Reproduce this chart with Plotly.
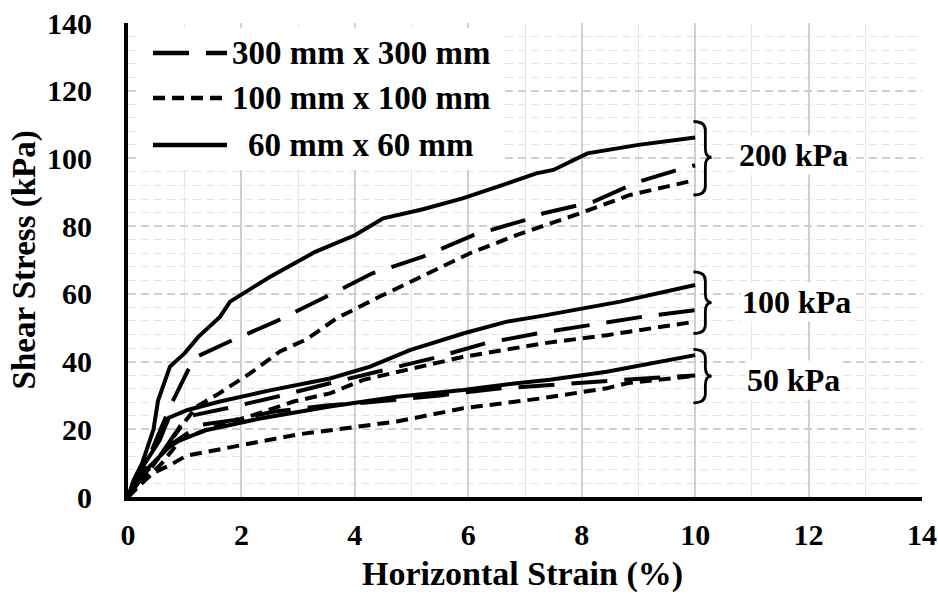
import plotly.graph_objects as go

# ---- shear stress vs horizontal strain, three box sizes x three normal stresses ----
s60_200_x = [0, 0.1, 0.25, 0.45, 0.53, 0.74, 1.0, 1.24, 1.62, 1.8, 2.5, 3.3, 4.0, 4.5, 5.2, 5.9, 6.6, 7.2, 7.5, 8.1, 9.0, 10.0]
s60_200_y = [0, 5, 10, 20, 28.5, 38.5, 42.5, 47.3, 53.2, 57.7, 65, 72.4, 77.3, 82.3, 85, 88.2, 92.1, 95.6, 96.6, 101.5, 104, 106.2]

s300_200_x = [0, 0.2, 0.4, 0.62, 0.77, 1.06, 1.21, 1.8, 2.6, 3.5, 4.3, 5.2, 6.1, 7.0, 7.33, 8.2, 9.0, 9.65, 10.0]
s300_200_y = [0, 6, 13, 21.5, 27.7, 37.5, 41.4, 46, 51.8, 59.2, 66, 71, 77.4, 81.8, 83.8, 87.2, 93.1, 96.4, 98]

s100_200_x = [0, 0.3, 0.6, 0.9, 1.21, 1.56, 2.15, 2.68, 3.15, 3.68, 4.44, 5.33, 6.03, 6.86, 7.38, 7.97, 8.85, 9.62, 10.0]
s100_200_y = [0, 6, 13, 20, 26.7, 30.1, 36.5, 43.0, 46.6, 52.8, 59.2, 66.5, 72, 77.4, 80.3, 83.8, 89.2, 92.1, 93.6]

s60_100_x = [0, 0.15, 0.3, 0.56, 0.72, 1.05, 1.62, 2.5, 3.56, 4.27, 4.97, 5.91, 6.68, 7.3, 8.68, 10.0]
s60_100_y = [0, 6, 10, 16.8, 23.4, 25.7, 28.2, 31.5, 35, 38.5, 43.4, 48.3, 51.8, 53.5, 57.7, 62.6]

s300_100_x = [0, 0.3, 0.6, 0.85, 1.03, 1.74, 2.62, 3.56, 4.5, 5.38, 6.3, 7.21, 8.15, 9.06, 10.0]
s300_100_y = [0, 7, 13, 19, 23.7, 26.2, 29.6, 33.6, 37.5, 41, 45.4, 48.3, 50.8, 53.2, 55.2]

s100_100_x = [0, 0.3, 0.6, 0.92, 1.45, 2.21, 2.92, 3.56, 4.15, 5.03, 5.91, 6.62, 7.33, 8.44, 9.2, 10.0]
s100_100_y = [0, 5, 10, 16.8, 20.3, 24.2, 28.2, 30.6, 34.6, 38, 41.4, 43.4, 45.4, 47.8, 49.8, 51.8]

s60_50_x = [0, 0.2, 0.5, 0.7, 0.92, 1.39, 2.33, 3.56, 4.74, 5.91, 6.85, 7.44, 8.44, 10.0]
s60_50_y = [0, 6, 11, 14.5, 16.8, 19.8, 23.2, 26.7, 29.6, 31.6, 33.6, 34.6, 37, 41.9]

s300_50_x = [0, 0.2, 0.5, 0.8, 1.27, 1.86, 2.56, 3.5, 4.15, 5.5, 6.5, 7.8, 8.74, 10.0]
s300_50_y = [0, 5, 11, 16, 21.3, 22.7, 25.2, 27, 27.8, 30, 32, 33.6, 34.6, 35.9]

s100_50_x = [0, 0.2, 0.44, 0.74, 1.03, 2.2, 3.0, 3.7, 4.74, 5.91, 7.27, 8.44, 8.8, 10.0]
s100_50_y = [0, 3.5, 7.1, 9.4, 12.2, 16, 18.5, 20, 22.3, 26.2, 29.1, 32.1, 33.6, 35.8]

box_labels = ["300 mm x 300 mm", "100 mm x 100 mm", "60 mm x 60 mm"]
stress_labels = ["200 kPa", "100 kPa", "50 kPa"]

x_ticks = [0, 2, 4, 6, 8, 10, 12, 14]
y_ticks = [0, 20, 40, 60, 80, 100, 120, 140]

# line style per box size
DASH = {
    "300 mm x 300 mm": "36px,17px",
    "100 mm x 100 mm": "12px,7px",
    "60 mm x 60 mm": "solid",
}

series = [
    ("60 mm x 60 mm", s60_200_x, s60_200_y),
    ("300 mm x 300 mm", s300_200_x, s300_200_y),
    ("100 mm x 100 mm", s100_200_x, s100_200_y),
    ("60 mm x 60 mm", s60_100_x, s60_100_y),
    ("300 mm x 300 mm", s300_100_x, s300_100_y),
    ("100 mm x 100 mm", s100_100_x, s100_100_y),
    ("60 mm x 60 mm", s60_50_x, s60_50_y),
    ("300 mm x 300 mm", s300_50_x, s300_50_y),
    ("100 mm x 100 mm", s100_50_x, s100_50_y),
]

FONT = "Liberation Serif"

fig = go.Figure()
for name, xs, ys in series:
    fig.add_trace(go.Scatter(
        x=xs, y=ys, mode="lines", name=name, showlegend=False,
        line=dict(color="black", width=4, dash=DASH[name]),
    ))

# ---- axes ----
fig.update_xaxes(
    range=[0, 14], tickvals=x_ticks, ticktext=[str(v) for v in x_ticks],
    showline=True, linewidth=4, linecolor="black", mirror=False,
    zeroline=False, ticks="", ticklabelstandoff=8, automargin=False,
    showgrid=True, gridcolor="#cfcfcf", gridwidth=1.5,
    minor=dict(dtick=1, showgrid=True, gridcolor="#e6e6e6", gridwidth=1.2),
    tickfont=dict(family=FONT, size=30, color="black", weight="bold"),
)
fig.update_yaxes(
    range=[0, 140], tickvals=y_ticks, ticktext=[str(v) for v in y_ticks],
    showline=True, linewidth=4, linecolor="black", mirror=False,
    zeroline=False, ticks="", ticklabelstandoff=26, automargin=False,
    showgrid=True, gridcolor="#cfcfcf", gridwidth=1.5, griddash="8px,5px",
    minor=dict(dtick=4, showgrid=True, gridcolor="#e3e3e3", gridwidth=1.2, griddash="8px,5px"),
    tickfont=dict(family=FONT, size=30, color="black", weight="bold"),
)

shapes = []
annotations = []

# ---- braces grouping the curves of each normal stress ----
braces = [
    (110.9, 100.3, 89.2),
    (66.5, 57.4, 48.3),
    (43.6, 35.7, 27.8),
]
bx0, bx1, btip = 9.97, 10.18, 10.29
rx, ry = 0.2, 2.6
for top, mid, bot in braces:
    path = (
        f"M {bx0},{top} Q {bx1},{top} {bx1},{top - ry} "
        f"L {bx1},{mid + ry} Q {bx1},{mid} {btip},{mid} "
        f"Q {bx1},{mid} {bx1},{mid - ry} "
        f"L {bx1},{bot + ry} Q {bx1},{bot} {bx0},{bot}"
    )
    shapes.append(dict(type="path", path=path, xref="x", yref="y",
                       line=dict(color="black", width=2.8), layer="above"))

label_pos = [(11.73, 101.0), (11.78, 57.7), (11.73, 34.6)]
for text, (lx, ly) in zip(stress_labels, label_pos):
    annotations.append(dict(
        x=lx, y=ly, xref="x", yref="y", text=text, showarrow=False,
        font=dict(family=FONT, size=32, color="black", weight="bold"),
        bgcolor="white", xanchor="center", yanchor="middle",
    ))

# ---- legend box ----
shapes.append(dict(type="rect", xref="paper", yref="paper",
                   x0=0.015, x1=0.47, y0=0.69, y1=0.99,
                   fillcolor="white", line=dict(width=0), layer="above"))
legend_rows = [0.9367, 0.8418, 0.7426]
for name, ry_ in zip(box_labels, legend_rows):
    shapes.append(dict(type="line", xref="paper", yref="paper",
                       x0=0.0315, x1=0.1247, y0=ry_, y1=ry_,
                       line=dict(color="black", width=4.5, dash=DASH[name]),
                       layer="above"))
    annotations.append(dict(
        x=0.2934, y=ry_, xref="paper", yref="paper", text=name,
        showarrow=False, xanchor="center", yanchor="middle",
        font=dict(family=FONT, size=33, color="black", weight="bold"),
    ))

# ---- axis titles ----
annotations.append(dict(
    x=0.497, y=-0.2066, xref="paper", yref="paper", text="Horizontal Strain (%)",
    showarrow=False, xanchor="center", yanchor="bottom",
    font=dict(family=FONT, size=34, color="black", weight="bold"),
))
annotations.append(dict(
    x=-0.1305, y=0.5, xref="paper", yref="paper", text="Shear Stress (kPa)",
    showarrow=False, xanchor="center", yanchor="middle", textangle=-90,
    font=dict(family=FONT, size=33, color="black", weight="bold"),
))

fig.update_layout(
    width=938, height=595,
    margin=dict(l=128, r=16, t=23, b=98),
    plot_bgcolor="white", paper_bgcolor="white",
    shapes=shapes, annotations=annotations,
    showlegend=False,
)

fig.write_html("out.html")
